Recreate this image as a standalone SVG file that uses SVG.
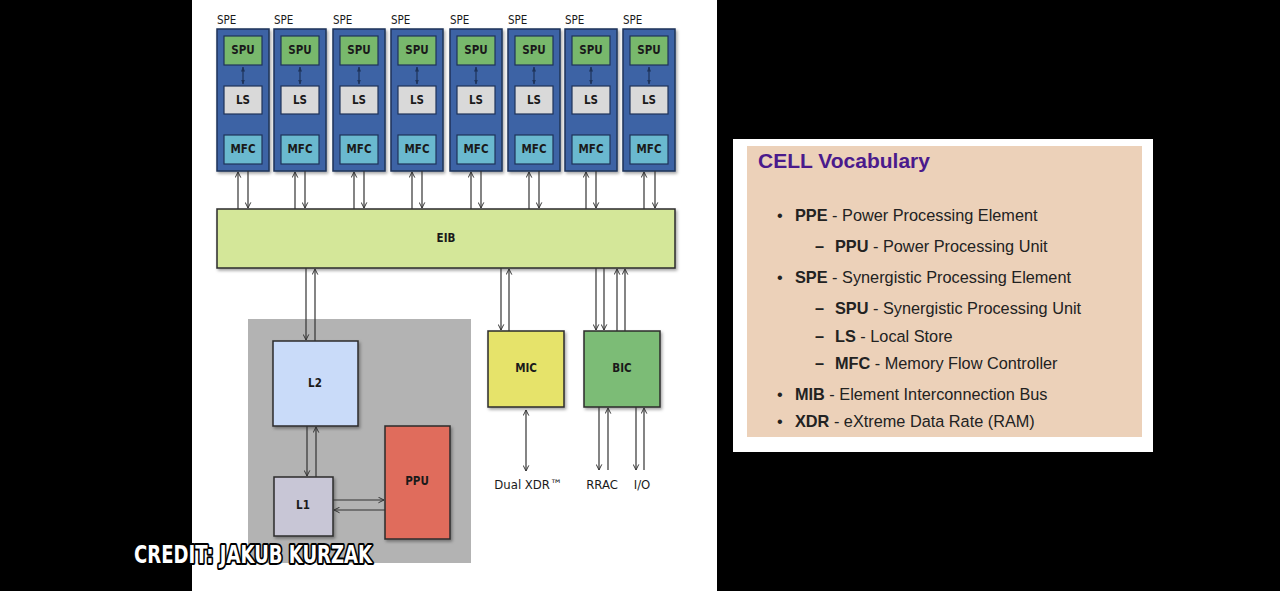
<svg xmlns="http://www.w3.org/2000/svg" width="1280" height="591" viewBox="0 0 1280 591">
<defs>
<style>
.lbl{font-family:"Liberation Sans Narrow","DejaVu Sans Condensed","Liberation Sans",sans-serif;font-size:11.5px;font-weight:bold;fill:#1a1a1a;text-anchor:middle;}
.sl{font-family:"Liberation Sans Narrow","DejaVu Sans Condensed","Liberation Sans",sans-serif;font-size:11.5px;fill:#1a1a1a;}
.xl{font-family:"Liberation Sans Narrow","DejaVu Sans Condensed","Liberation Sans",sans-serif;font-size:13px;fill:#1a1a1a;text-anchor:middle;}
.spe{fill:#3d63a5;stroke:#1e3359;stroke-width:1.5;filter:url(#sh);}
.spu{fill:#78b86c;stroke:#1e3359;stroke-width:1.2;}
.ls{fill:#d9d9d9;stroke:#1e3359;stroke-width:1.2;}
.mfc{fill:#6ab9cf;stroke:#1e3359;stroke-width:1.2;}
.box{stroke:#2b2b2b;stroke-width:1.5;filter:url(#sh);}
.ar{stroke:#333;stroke-width:1.2;fill:none;marker-end:url(#ah);}
.dar{stroke:#333;stroke-width:1.2;fill:none;marker-end:url(#ah);marker-start:url(#ahs);}
.nav{stroke:#1e3359;stroke-width:1.2;fill:none;marker-end:url(#nh);marker-start:url(#nhs);}
.voc{font-family:"Liberation Sans",Arial,sans-serif;font-size:16.3px;fill:#222;}
.voc tspan.b{font-weight:bold;}
</style>
<filter id="sh" x="-10%" y="-10%" width="130%" height="130%">
<feDropShadow dx="1.5" dy="2" stdDeviation="1.5" flood-color="#000" flood-opacity="0.35"/>
</filter>
<marker id="ah" viewBox="0 0 10 10" refX="9" refY="5" markerWidth="7" markerHeight="7" orient="auto" markerUnits="userSpaceOnUse">
<path d="M1,1 L9,5 L1,9" fill="none" stroke="#333" stroke-width="1.4"/>
</marker>
<marker id="ahs" viewBox="0 0 10 10" refX="9" refY="5" markerWidth="7" markerHeight="7" orient="auto-start-reverse" markerUnits="userSpaceOnUse">
<path d="M1,1 L9,5 L1,9" fill="none" stroke="#333" stroke-width="1.4"/>
</marker>
<marker id="nh" viewBox="0 0 10 10" refX="9" refY="5" markerWidth="5" markerHeight="5" orient="auto" markerUnits="userSpaceOnUse">
<path d="M0,1 L10,5 L0,9 Z" fill="#1e3359"/>
</marker>
<marker id="nhs" viewBox="0 0 10 10" refX="9" refY="5" markerWidth="5" markerHeight="5" orient="auto-start-reverse" markerUnits="userSpaceOnUse">
<path d="M0,1 L10,5 L0,9 Z" fill="#1e3359"/>
</marker>
</defs>

<rect x="0" y="0" width="1280" height="591" fill="#000"/>
<rect x="192" y="0" width="525" height="591" fill="#fff"/>

<g id="spe1"><text class="sl" x="217" y="24">SPE</text><rect class="spe" x="217" y="29" width="52" height="142"/><rect class="spu" x="224" y="36" width="38" height="29"/><text class="lbl" x="243" y="54">SPU</text><rect class="ls" x="224" y="86" width="38" height="28"/><text class="lbl" x="243" y="104">LS</text><rect class="mfc" x="224" y="135" width="38" height="29"/><text class="lbl" x="243" y="153">MFC</text><line class="nav" x1="243" y1="67" x2="243" y2="84"/></g>
<g id="spe2"><text class="sl" x="274" y="24">SPE</text><rect class="spe" x="274" y="29" width="52" height="142"/><rect class="spu" x="281" y="36" width="38" height="29"/><text class="lbl" x="300" y="54">SPU</text><rect class="ls" x="281" y="86" width="38" height="28"/><text class="lbl" x="300" y="104">LS</text><rect class="mfc" x="281" y="135" width="38" height="29"/><text class="lbl" x="300" y="153">MFC</text><line class="nav" x1="300" y1="67" x2="300" y2="84"/></g>
<g id="spe3"><text class="sl" x="333" y="24">SPE</text><rect class="spe" x="333" y="29" width="52" height="142"/><rect class="spu" x="340" y="36" width="38" height="29"/><text class="lbl" x="359" y="54">SPU</text><rect class="ls" x="340" y="86" width="38" height="28"/><text class="lbl" x="359" y="104">LS</text><rect class="mfc" x="340" y="135" width="38" height="29"/><text class="lbl" x="359" y="153">MFC</text><line class="nav" x1="359" y1="67" x2="359" y2="84"/></g>
<g id="spe4"><text class="sl" x="391" y="24">SPE</text><rect class="spe" x="391" y="29" width="52" height="142"/><rect class="spu" x="398" y="36" width="38" height="29"/><text class="lbl" x="417" y="54">SPU</text><rect class="ls" x="398" y="86" width="38" height="28"/><text class="lbl" x="417" y="104">LS</text><rect class="mfc" x="398" y="135" width="38" height="29"/><text class="lbl" x="417" y="153">MFC</text><line class="nav" x1="417" y1="67" x2="417" y2="84"/></g>
<g id="spe5"><text class="sl" x="450" y="24">SPE</text><rect class="spe" x="450" y="29" width="52" height="142"/><rect class="spu" x="457" y="36" width="38" height="29"/><text class="lbl" x="476" y="54">SPU</text><rect class="ls" x="457" y="86" width="38" height="28"/><text class="lbl" x="476" y="104">LS</text><rect class="mfc" x="457" y="135" width="38" height="29"/><text class="lbl" x="476" y="153">MFC</text><line class="nav" x1="476" y1="67" x2="476" y2="84"/></g>
<g id="spe6"><text class="sl" x="508" y="24">SPE</text><rect class="spe" x="508" y="29" width="52" height="142"/><rect class="spu" x="515" y="36" width="38" height="29"/><text class="lbl" x="534" y="54">SPU</text><rect class="ls" x="515" y="86" width="38" height="28"/><text class="lbl" x="534" y="104">LS</text><rect class="mfc" x="515" y="135" width="38" height="29"/><text class="lbl" x="534" y="153">MFC</text><line class="nav" x1="534" y1="67" x2="534" y2="84"/></g>
<g id="spe7"><text class="sl" x="565" y="24">SPE</text><rect class="spe" x="565" y="29" width="52" height="142"/><rect class="spu" x="572" y="36" width="38" height="29"/><text class="lbl" x="591" y="54">SPU</text><rect class="ls" x="572" y="86" width="38" height="28"/><text class="lbl" x="591" y="104">LS</text><rect class="mfc" x="572" y="135" width="38" height="29"/><text class="lbl" x="591" y="153">MFC</text><line class="nav" x1="591" y1="67" x2="591" y2="84"/></g>
<g id="spe8"><text class="sl" x="623" y="24">SPE</text><rect class="spe" x="623" y="29" width="52" height="142"/><rect class="spu" x="630" y="36" width="38" height="29"/><text class="lbl" x="649" y="54">SPU</text><rect class="ls" x="630" y="86" width="38" height="28"/><text class="lbl" x="649" y="104">LS</text><rect class="mfc" x="630" y="135" width="38" height="29"/><text class="lbl" x="649" y="153">MFC</text><line class="nav" x1="649" y1="67" x2="649" y2="84"/></g>

<g id="eib"><rect class="box" x="217" y="209" width="458" height="59" fill="#d4e799"/><text class="lbl" x="446" y="242">EIB</text></g>

<g id="ppe"><rect x="248" y="319" width="223" height="244" fill="#b3b3b3"/></g>
<g id="l2"><rect class="box" x="273" y="341" width="85" height="85" fill="#c9dbf9"/><text class="lbl" x="315" y="387">L2</text></g>
<g id="l1"><rect class="box" x="274" y="477" width="59" height="59" fill="#c8c6d6"/><text class="lbl" x="303" y="509">L1</text></g>
<g id="ppu"><rect class="box" x="385" y="426" width="65" height="113" fill="#e06c5b"/><text class="lbl" x="417" y="485">PPU</text></g>
<g id="mic"><rect class="box" x="488" y="331" width="76" height="76" fill="#e6e36b"/><text class="lbl" x="526" y="372">MIC</text></g>
<g id="bic"><rect class="box" x="584" y="331" width="76" height="76" fill="#7cbc76"/><text class="lbl" x="622" y="372">BIC</text></g>

<g id="connectors">
<line class="ar" x1="238" y1="209" x2="238" y2="172"/><line class="ar" x1="248" y1="171" x2="248" y2="208"/>
<line class="ar" x1="295" y1="209" x2="295" y2="172"/><line class="ar" x1="305" y1="171" x2="305" y2="208"/>
<line class="ar" x1="354" y1="209" x2="354" y2="172"/><line class="ar" x1="364" y1="171" x2="364" y2="208"/>
<line class="ar" x1="412" y1="209" x2="412" y2="172"/><line class="ar" x1="422" y1="171" x2="422" y2="208"/>
<line class="ar" x1="471" y1="209" x2="471" y2="172"/><line class="ar" x1="481" y1="171" x2="481" y2="208"/>
<line class="ar" x1="529" y1="209" x2="529" y2="172"/><line class="ar" x1="539" y1="171" x2="539" y2="208"/>
<line class="ar" x1="586" y1="209" x2="586" y2="172"/><line class="ar" x1="596" y1="171" x2="596" y2="208"/>
<line class="ar" x1="644" y1="209" x2="644" y2="172"/><line class="ar" x1="655" y1="171" x2="655" y2="208"/>
<line class="ar" x1="306" y1="268" x2="306" y2="340"/><line class="ar" x1="315" y1="341" x2="315" y2="269"/>
<line class="ar" x1="307" y1="426" x2="307" y2="476"/><line class="ar" x1="316" y1="477" x2="316" y2="427"/>
<line class="ar" x1="333" y1="500" x2="384" y2="500"/><line class="ar" x1="385" y1="510" x2="334" y2="510"/>
<line class="ar" x1="501" y1="268" x2="501" y2="330"/><line class="ar" x1="509" y1="331" x2="509" y2="269"/>
<line class="ar" x1="596" y1="268" x2="596" y2="330"/><line class="ar" x1="604" y1="268" x2="604" y2="330"/>
<line class="ar" x1="617" y1="331" x2="617" y2="269"/><line class="ar" x1="625" y1="331" x2="625" y2="269"/>
<line class="dar" x1="526" y1="410" x2="526" y2="471"/>
<line class="ar" x1="599" y1="407" x2="599" y2="470"/><line class="ar" x1="608" y1="470" x2="608" y2="408"/>
<line class="ar" x1="636" y1="407" x2="636" y2="470"/><line class="ar" x1="644" y1="470" x2="644" y2="408"/>
</g>
<text class="xl" x="528" y="489">Dual XDR™</text>
<text class="xl" x="602" y="489">RRAC</text>
<text class="xl" x="642" y="489">I/O</text>

<g id="vocab">
<rect x="733" y="139" width="420" height="313" fill="#fff"/>
<rect x="747" y="146" width="395" height="291" fill="#ecd1b9"/>
<text x="758" y="168" font-family="Liberation Sans,Arial,sans-serif" font-size="21" font-weight="bold" fill="#4a1a8c">CELL Vocabulary</text>
<text class="voc" x="777" y="221">•</text><text class="voc" x="795" y="221"><tspan class="b">PPE</tspan> - Power Processing Element</text>
<text class="voc" x="815" y="252"><tspan class="b">–</tspan></text><text class="voc" x="835" y="252"><tspan class="b">PPU</tspan> - Power Processing Unit</text>
<text class="voc" x="777" y="283">•</text><text class="voc" x="795" y="283"><tspan class="b">SPE</tspan> - Synergistic Processing Element</text>
<text class="voc" x="815" y="314"><tspan class="b">–</tspan></text><text class="voc" x="835" y="314"><tspan class="b">SPU</tspan> - Synergistic Processing Unit</text>
<text class="voc" x="815" y="342"><tspan class="b">–</tspan></text><text class="voc" x="835" y="342"><tspan class="b">LS</tspan> - Local Store</text>
<text class="voc" x="815" y="369"><tspan class="b">–</tspan></text><text class="voc" x="835" y="369"><tspan class="b">MFC</tspan> - Memory Flow Controller</text>
<text class="voc" x="777" y="400">•</text><text class="voc" x="795" y="400"><tspan class="b">MIB</tspan> - Element Interconnection Bus</text>
<text class="voc" x="777" y="427">•</text><text class="voc" x="795" y="427"><tspan class="b">XDR</tspan> - eXtreme Data Rate (RAM)</text>
</g>

<text x="134" y="563" font-family="DejaVu Sans Condensed,DejaVu Sans,sans-serif" font-stretch="condensed" font-weight="bold" font-size="25" fill="#fff" stroke="#000" stroke-width="4" stroke-linejoin="round" paint-order="stroke" textLength="238" lengthAdjust="spacingAndGlyphs">CREDIT: JAKUB KURZAK</text>
</svg>
